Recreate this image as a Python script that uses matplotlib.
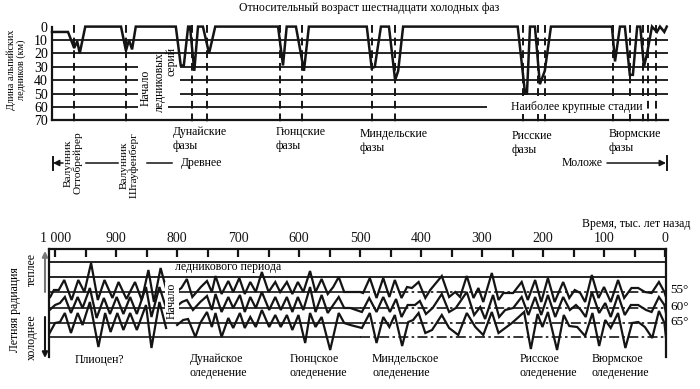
import matplotlib
matplotlib.use('Agg')
import matplotlib.pyplot as plt
from matplotlib.lines import Line2D
import numpy as np

plt.rcParams['font.family'] = ['Liberation Serif', 'DejaVu Serif']

W, H = 700, 389
INK = '#141414'
FS = 8.5

# ---------------- top panel data (relative age position 0-100, glacier length km)
glacier_pos = [0, 2.6, 3.6, 4.1, 4.5, 5.4, 11.2, 12.0, 12.5, 13.0, 13.6, 20.1, 20.9, 21.4, 22.1,
               22.4, 23.1, 23.7, 24.5, 25.5, 26.5, 36.7, 37.5, 38.1, 39.6, 40.9, 41.7, 51.1, 51.9,
               52.4, 53.4, 54.7, 55.7, 56.2, 57.0, 75.6, 76.8, 77.1, 77.6, 78.4, 79.2, 80.0, 81.0,
               90.9, 91.4, 92.2, 93.0, 93.8, 94.3, 95.0, 95.5, 96.1, 96.6, 97.4, 98.2, 98.7, 99.4, 99.8]
glacier_len = [4, 4, 16, 11, 20, 0, 0, 18, 10, 17, 0, 0, 29, 29, 0,
               0, 33, 0, 0, 20, 0, 0, 29, 0, 0, 33, 0, 0, 31,
               30, 0, 0, 40, 33, 0, 0, 50, 50, 0, 0, 43, 33, 0,
               0, 26, 0, 0, 36, 36, 0, 0, 30, 20, 0, 4, 0, 4, 0]
phase_pos = [3.6, 12.0, 22.7, 25.2, 37.0, 40.6, 51.9, 55.7, 76.5, 78.9, 80.0, 91.0, 93.9, 95.9, 96.8, 98.1]
length_ticks = [0, 10, 20, 30, 40, 50, 60, 70]

# ---------------- bottom panel data (thousand years ago, summer radiation index)
age_ticks = [1000, 900, 800, 700, 600, 500, 400, 300, 200, 100, 0]
age_labels = ['1 000', '900', '800', '700', '600', '500', '400', '300', '200', '100', '0']

ka_55 = [1008, 1002, 994, 985, 973, 962, 952, 941, 930, 919, 906, 896, 883, 869, 858, 847, 838, 827, 817, 812,
         np.nan,
         802, 793, 784, 775, 761, 751, 743, 737, 727, 716, 708, 698, 689, 680, 671, 661, 650, 639, 631, 620,
         611, 602, 593, 582, 573, 563, 553, 544, 535, 526, 516, 500, 495, 484, 473, 462, 452, 443, 432, 423,
         415, 404, 393, 385, 366, 354, 344, 336, 325, 314, 306, 298, 284, 273, 265, 254, 249, 235, 225, 213,
         203, 192, 181, 167, 157, 148, 139, 131, 120, 109, 100, 89, 77, 67, 55, 44, 33, 22, 10, 1, -1.5]
rad_55 = [63, 70, 70, 80, 60, 80, 68, 97, 60, 80, 62, 78, 61, 78, 60, 90, 58, 92, 69, 69,
          np.nan,
          68, 72, 81, 63, 73, 79, 68, 84, 66, 79, 68, 82, 66, 78, 68, 88, 68, 78, 68, 78,
          66, 78, 68, 89, 68, 81, 66, 73, 83, 68, 68, 68, 67, 82, 62, 82, 63, 80, 62, 73,
          72, 78, 62, 70, 84, 63, 68, 63, 84, 62, 72, 58, 87, 60, 67, 67, 67, 78, 60, 80,
          58, 82, 58, 78, 62, 70, 67, 58, 85, 62, 73, 58, 80, 62, 72, 72, 68, 67, 78, 68, 63]

ka_60 = [1009, 1000, 992, 984, 974, 963, 955, 943, 932, 920, 910, 899, 888, 877, 866, 851, 842, 829, 818,
         np.nan,
         802, 792, 784, 774, 762, 751, 743, 737, 727, 716, 708, 697, 689, 680, 671, 661, 649, 639, 630, 620,
         611, 602, 593, 582, 573, 563, 553, 544, 535, 526, 516, 497, 485, 473, 462, 451, 441, 432, 422, 410,
         402, 392, 381, 366, 354, 343, 325, 313, 303, 295, 282, 272, 262, 249, 235, 224, 213, 203, 192, 180,
         167, 156, 146, 138, 130, 120, 108, 98, 89, 77, 66, 56, 44, 31, 22, 10, 1, -1.5]
rad_60 = [50, 55, 57, 63, 47, 63, 52, 72, 42, 62, 46, 63, 46, 63, 46, 73, 43, 73, 52,
          np.nan,
          53, 58, 60, 50, 58, 64, 50, 66, 48, 63, 52, 65, 48, 63, 52, 68, 50, 63, 50, 63,
          48, 63, 50, 73, 48, 65, 47, 55, 63, 52, 52, 48, 62, 48, 63, 48, 61, 43, 55, 55,
          59, 46, 52, 66, 48, 52, 68, 45, 53, 41, 65, 43, 50, 52, 63, 45, 63, 45, 65, 43,
          63, 50, 55, 50, 43, 68, 47, 57, 43, 65, 45, 55, 55, 50, 48, 63, 55, 47]

ka_65 = [1009, 1000, 992, 984, 974, 963, 955, 943, 929, 918, 909, 898, 888, 877, 866, 851, 842, 829, 818,
         np.nan,
         800, 790, 782, 770, 762, 751, 743, 737, 727, 716, 708, 697, 689, 680, 671, 661, 649, 639, 630, 620,
         611, 601, 590, 582, 573, 563, 549, 535, 526, 516, 497, 484, 473, 462, 452, 443, 431, 421, 413, 404,
         393, 382, 366, 354, 339, 325, 311, 298, 284, 273, 262, 251, 240, 231, 220, 209, 201, 192, 177, 166,
         157, 144, 131, 119, 108, 98, 89, 77, 65, 54, 44, 33, 21, 10, 1, -1.5]
rad_65 = [27, 37, 38, 47, 27, 47, 35, 58, 13, 47, 28, 47, 30, 47, 30, 55, 12, 58, 32,
          np.nan,
          35, 40, 41, 23, 37, 48, 33, 47, 23, 42, 32, 47, 32, 43, 33, 50, 33, 45, 33, 45,
          30, 45, 17, 47, 33, 43, 10, 47, 37, 35, 32, 47, 17, 43, 33, 45, 14, 38, 40, 47,
          27, 30, 45, 32, 25, 47, 33, 25, 48, 27, 32, 37, 43, 48, 11, 46, 33, 48, 10, 45,
          34, 33, 24, 47, 14, 40, 32, 47, 12, 37, 38, 33, 22, 49, 37, 23]

lat_labels = ['55°', '60°', '65°']
lat_levels = [68, 52, 37, 23]
upper_levels = [98, 83]

glaciations = ['Плиоцен?', 'Дунайское\nоледенение', 'Гюнцское\nоледенение', 'Миндельское\nоледенение',
               'Рисское\nоледенение', 'Вюрмское\nоледенение']
phase_names = ['Дунайские\nфазы', 'Гюнцские\nфазы', 'Миндельские\nфазы', 'Рисские\nфазы', 'Вюрмские\nфазы']


def F(px, py):
    return px / W, 1 - py / H


fig = plt.figure(figsize=(W / 100, H / 100), dpi=100)

# ================= top panel
ax1 = fig.add_axes([52 / W, 1 - 120.4 / H, 616 / W, 93.8 / H])
ax1.set_xlim(0, 100)
ax1.set_ylim(70, 0)
for s in ['top', 'right']:
    ax1.spines[s].set_visible(False)
for s in ['left', 'bottom']:
    ax1.spines[s].set_linewidth(1.6)
    ax1.spines[s].set_color(INK)
ax1.set_xticks([])
ax1.set_yticks(length_ticks)
ax1.tick_params(axis='y', length=0, pad=3, labelsize=10)

grid_segments = {10: [(0, 100)], 20: [(0, 100)], 30: [(0, 14), (20.8, 100)], 40: [(0, 14), (20.8, 100)],
                 50: [(0, 14), (20.8, 100)], 60: [(0, 14), (18.8, 70.6)]}
for lev, segs in grid_segments.items():
    for a, b in segs:
        ax1.plot([a, b], [lev, lev], color=INK, lw=1.3, solid_capstyle='butt')

ax1.vlines(phase_pos, -1, 71, colors=INK, linestyles=(0, (4, 2.5)), lw=1.4, clip_on=False)
ax1.plot(glacier_pos, glacier_len, color=INK, lw=1.8, clip_on=False, solid_joinstyle='miter')

fig.text(*F(16, 70), 'Длина альпийских\nледников (км)', rotation=90, ha='center', va='center',
         fontsize=7.3, linespacing=1.05)
fig.text(*F(369, 8), 'Относительный возраст шестнадцати холодных фаз', ha='center', va='center', fontsize=FS)
fig.text(*F(146, 88), 'Начало', rotation=90, ha='center', va='center', fontsize=FS)
fig.text(*F(160, 82), 'ледниковых', rotation=90, ha='center', va='center', fontsize=FS)
fig.text(*F(172, 62), 'серий', rotation=90, ha='center', va='center', fontsize=FS)
fig.text(*F(577, 107), 'Наиболее крупные стадии', ha='center', va='center', fontsize=FS,
         bbox=dict(facecolor='white', edgecolor='none', pad=1))

for (px, py), name in zip([(173, 139), (276, 139), (360, 141), (512, 143), (609, 141)], phase_names):
    fig.text(*F(px, py), name, ha='left', va='center', fontsize=FS, linespacing=1.2)

fig.text(*F(73, 163), 'Валунник\nОттобрейрер', rotation=90, ha='center', va='center', fontsize=8.2,
         linespacing=1.05)
fig.text(*F(129, 165), 'Валунник\nШтауфенберг', rotation=90, ha='center', va='center', fontsize=8.2,
         linespacing=1.05)
fig.text(*F(181, 163), 'Древнее', ha='left', va='center', fontsize=FS)
fig.text(*F(603, 163), 'Моложе', ha='right', va='center', fontsize=FS)

for x0, x1 in [(86, 118), (147, 172)]:
    fig.add_artist(Line2D([x0 / W, x1 / W], [1 - 163 / H] * 2, color=INK, lw=1.1))
fig.add_artist(Line2D([53 / W] * 2, [1 - 157 / H, 1 - 170 / H], color=INK, lw=1.4))
fig.add_artist(Line2D([667 / W] * 2, [1 - 156 / H, 1 - 170 / H], color=INK, lw=1.4))
ax1.annotate('', xy=(53, H - 163), xytext=(63, H - 163), xycoords='figure pixels',
             arrowprops=dict(arrowstyle='-|>', color=INK, lw=1.1, mutation_scale=9, shrinkA=0, shrinkB=0))
ax1.annotate('', xy=(666, H - 163), xytext=(607, H - 163), xycoords='figure pixels',
             arrowprops=dict(arrowstyle='-|>', color=INK, lw=1.1, mutation_scale=9, shrinkA=0, shrinkB=0))

# ================= bottom panel
ax2 = fig.add_axes([49 / W, 1 - 357 / H, 617 / W, 108 / H])
ax2.set_xlim(1010, -1.6)
ax2.set_ylim(3, 111)
ax2.spines['bottom'].set_visible(False)
for s in ['left', 'right', 'top']:
    ax2.spines[s].set_linewidth(1.6)
    ax2.spines[s].set_color(INK)
ax2.xaxis.tick_top()
ax2.set_xticks(age_ticks, age_labels)
ax2.set_xticks([950, 850, 750, 650, 550, 450, 350, 250, 150, 50], minor=True)
ax2.tick_params(axis='x', which='both', direction='in', length=6, width=1.6, colors=INK, pad=3, labelsize=10)
ax2.set_yticks([])

for lev in upper_levels:
    ax2.plot([1010, -1.6], [lev, lev], color=INK, lw=1.3)
for lev in lat_levels:
    ax2.plot([1010, 500], [lev, lev], color=INK, lw=1.2)
    ax2.plot([500, -1.6], [lev, lev], color=INK, lw=1.2, linestyle=(0, (6, 2, 1.5, 2)))

for ka, rad in [(ka_55, rad_55), (ka_60, rad_60), (ka_65, rad_65)]:
    ax2.plot(ka, rad, color=INK, lw=1.6, solid_joinstyle='miter')

for (px, py), lab in zip([(670, 290), (670, 307), (670, 322)], lat_labels):
    fig.text(*F(px, py), lab, ha='left', va='center', fontsize=9.5)

fig.text(*F(175, 267), 'ледникового периода', ha='left', va='center', fontsize=FS)
fig.text(*F(172, 301), 'Начало', rotation=90, ha='center', va='center', fontsize=FS,
         bbox=dict(facecolor='white', edgecolor='none', pad=0.5))
fig.text(*F(690, 224), 'Время, тыс. лет назад', ha='right', va='center', fontsize=FS)

gl_pos = [(99, 360, 'center'), (190, 366, 'left'), (290, 366, 'left'), (372, 366, 'left'),
          (520, 366, 'left'), (592, 366, 'left')]
for (px, py, ha), name in zip(gl_pos, glaciations):
    fig.text(*F(px, py), name, ha=ha, va='center', fontsize=FS, linespacing=1.15)

fig.text(*F(15, 310), 'Летняя радиация', rotation=90, ha='center', va='center', fontsize=FS)
fig.text(*F(32, 270), 'теплее', rotation=90, ha='center', va='center', fontsize=FS)
fig.text(*F(32, 337), 'холоднее', rotation=90, ha='center', va='center', fontsize=FS)
ax2.annotate('', xy=(45, H - 251), xytext=(45, H - 292), xycoords='figure pixels',
             arrowprops=dict(arrowstyle='-|>', color='#777777', lw=1.5, mutation_scale=8, shrinkA=0, shrinkB=0))
ax2.annotate('', xy=(45, H - 358), xytext=(45, H - 317), xycoords='figure pixels',
             arrowprops=dict(arrowstyle='-|>', color=INK, lw=1.5, mutation_scale=8, shrinkA=0, shrinkB=0))

fig.savefig('out.png', dpi=100)
